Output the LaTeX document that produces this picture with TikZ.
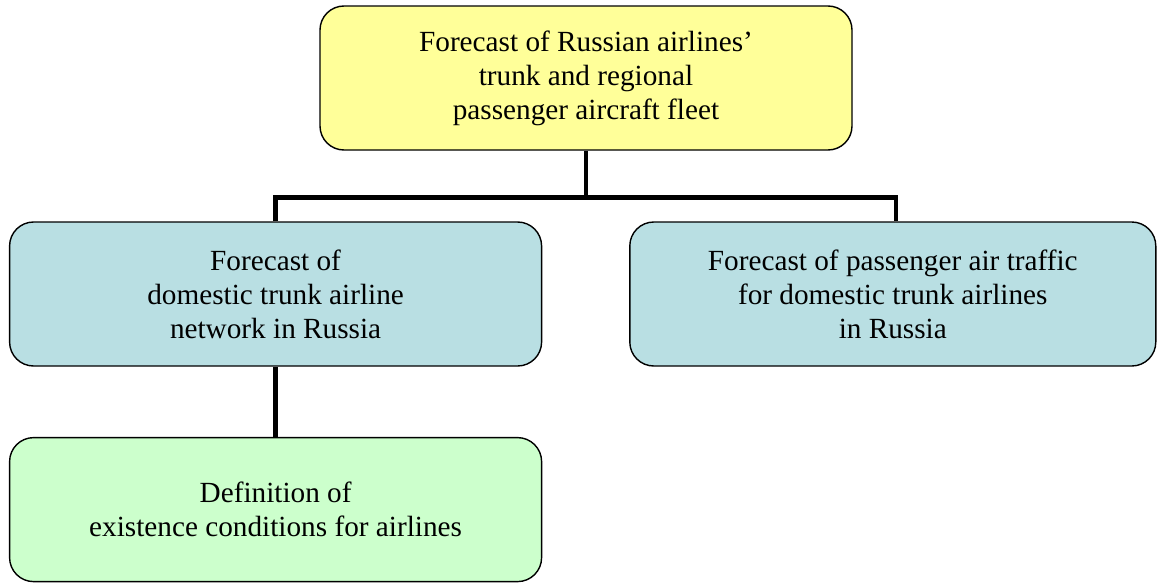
\documentclass[tikz,border=0pt]{standalone}
\usepackage{fontspec}
\setmainfont{Liberation Serif}
\usepackage{xcolor}
\definecolor{cTop}{HTML}{FFFF99}
\definecolor{cMid}{HTML}{B9DFE3}
\definecolor{cLow}{HTML}{CCFFCC}
\usetikzlibrary{positioning,calc}
\tikzset{
  node-box/.style={draw=black,line width=1pt,rounded corners=0.6cm,
    minimum height=3.6cm,minimum width=13.3cm,align=center,
    font=\fontsize{20.8}{24.2}\selectfont},
  node-top/.style={fill=cTop},
  node-mid/.style={fill=cMid},
  node-low/.style={fill=cLow},
  link/.style={line width=3.5pt,draw=black},
}
\begin{document}
\begin{tikzpicture}
  \useasboundingbox (0,0) rectangle (28.925,-14.575);
  \node[node-box,node-top] (fleet) at (14.65,-1.95)
    {Forecast of Russian airlines’\\trunk and regional\\passenger aircraft fleet};
  \node[node-box,node-mid] (net) at (6.89,-7.35)
    {Forecast of\\domestic trunk airline\\network in Russia};
  \node[node-box,node-mid,minimum width=13.15cm] (traffic) at (22.32,-7.35)
    {Forecast of passenger air traffic\\for domestic trunk airlines\\in Russia};
  \node[node-box,node-low] (cond) at (6.89,-12.74)
    {Definition of\\existence conditions for airlines};
  \coordinate (bus) at ($(fleet.south)+(0,-1.18)$);
  \draw[link] (fleet.south) -- (bus);
  \draw[link] (net.north) |- (bus) -| ($(traffic.north)+(0.08,0)$);
  \draw[link] (net.south) -- (cond.north);
\end{tikzpicture}
\end{document}
